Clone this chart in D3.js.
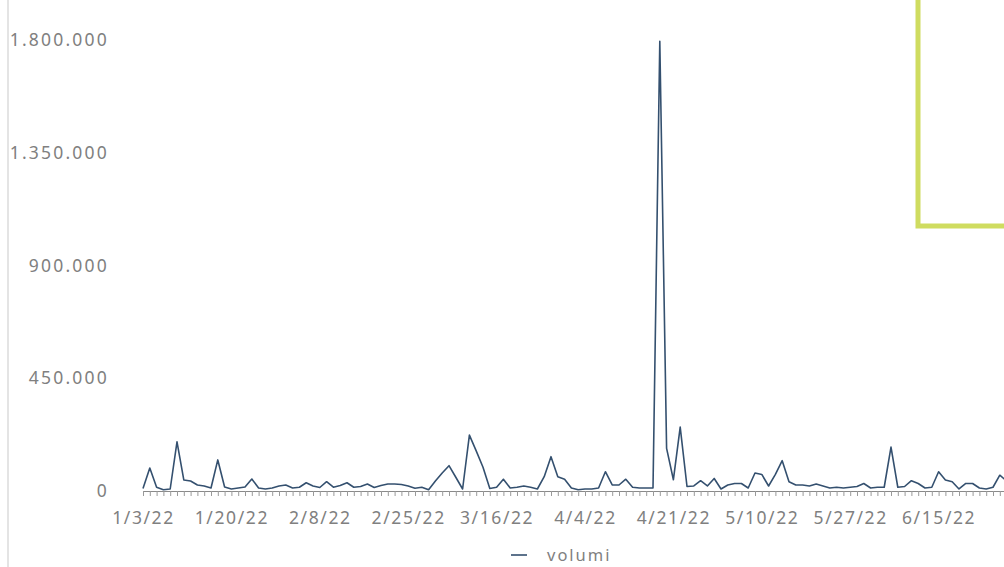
<!DOCTYPE html>
<html>
<head>
<meta charset="utf-8">
<script src="https://cdn.jsdelivr.net/npm/d3@7"></script>
<style>
  body { margin: 0; background: #fff; }
  text { font-family: "Noto Sans", sans-serif; }
</style>
</head>
<body>
<div class="graph-section"></div>
<script>
// volumi, one value per trading day (weekdays from 1/3/22)
var volumi = [
  10000, 92000, 15000, 5000, 8000, 196000, 44000, 40000, 24000, 20000,
  12000, 124000, 16000, 8000, 12000, 16000, 48000, 12000, 8000, 12000,
  20000, 24000, 12000, 15000, 33000, 20000, 14000, 37000, 15000, 22000,
  33000, 15000, 18000, 28000, 14000, 22000, 28000, 28000, 26000, 20000,
  11000, 15000, 5000, 40000, 72000, 101000, 55000, 8000, 223000, 160000,
  95000, 10000, 15000, 47000, 12000, 15000, 20000, 15000, 8000, 57000,
  137000, 57000, 47000, 12000, 5000, 8000, 8000, 12000, 77000, 24000,
  24000, 47000, 15000, 12000, 12000, 12000, 1795000, 170000, 45000, 255000,
  18000, 20000, 41000, 20000, 50000, 8000, 24000, 30000, 30000, 12000,
  72000, 66000, 20000, 66000, 121000, 37000, 24000, 24000, 20000, 28000,
  20000, 12000, 15000, 12000, 15000, 18000, 30000, 12000, 15000, 15000,
  175000, 15000, 18000, 41000, 30000, 12000, 15000, 77000, 44000, 37000,
  8000, 30000, 30000, 12000, 8000, 15000, 63000, 40000
];

var tickLabels = ["1/3/22", "1/20/22", "2/8/22", "2/25/22", "3/16/22",
                  "4/4/22", "4/21/22", "5/10/22", "5/27/22", "6/15/22"];

var yTicks = [0, 450000, 900000, 1350000, 1800000];

var seriesName = "volumi";

// weekday dates for the category axis
var fmtDate = d3.timeFormat("%-m/%-d/%y");
var dates = d3.timeDays(new Date(2022, 0, 3), new Date(2022, 6, 1))
              .filter(function(d){ return d.getDay() != 0 && d.getDay() != 6; })
              .map(fmtDate)
              .slice(0, volumi.length);

var screen = {width:1004, height:567};
var margins = {top:40, left:143, bottom:76};
var step = 6.8;
var labelFont = "17.5px";
var labelColor = "#808080";

var it = d3.formatLocale({decimal:",", thousands:".", grouping:[3], currency:["", "€"]});
var fmt = it.format(",d");

var svg = d3.select(".graph-section")
            .append("svg")
            .attr("width", screen.width)
            .attr("height", screen.height);

var xScale = d3.scalePoint()
               .domain(dates)
               .range([margins.left, margins.left + step * (dates.length - 1)]);

var yScale = d3.scaleLinear()
               .domain([0, 1800000])
               .range([screen.height - margins.bottom, margins.top]);

// container edge on the left
svg.append("line")
   .attr("x1", 8).attr("x2", 8)
   .attr("y1", 0).attr("y2", screen.height)
   .attr("stroke", "#e4e4e4")
   .attr("stroke-width", 2);

// y axis, labels only
var yAxis = d3.axisLeft(yScale)
              .tickValues(yTicks)
              .tickFormat(fmt)
              .tickSize(0)
              .tickPadding(0);

var yG = svg.append("g")
            .attr("transform", "translate(109,0)")
            .call(yAxis);
yG.select(".domain").remove();
yG.selectAll("text")
  .attr("fill", labelColor)
  .style("font-size", labelFont)
  .style("letter-spacing", "2.2px")
  .style("font-family", "Noto Sans, sans-serif");

// x axis with a tick on every day
var xAxis = d3.axisBottom(xScale)
              .tickSize(5)
              .tickFormat(function(d){ return tickLabels.indexOf(d) >= 0 ? d : ""; });

var xG = svg.append("g")
            .attr("transform", "translate(0," + yScale(0) + ")")
            .call(xAxis);
xG.select(".domain").attr("stroke", "#8a8a8a");
xG.selectAll(".tick line").attr("stroke", "#9a9a9a");
xG.selectAll("text")
  .attr("fill", labelColor)
  .attr("y", 21)
  .attr("dy", "0.71em")
  .style("font-size", labelFont)
  .style("letter-spacing", "1.6px")
  .style("font-family", "Noto Sans, sans-serif");

// the series line
var line = d3.line()
             .x(function(d, i){ return xScale(dates[i]); })
             .y(function(d){ return yScale(d); });

svg.append("path")
   .datum(volumi)
   .attr("d", line)
   .attr("fill", "none")
   .attr("stroke", "#34506f")
   .attr("stroke-width", 1.6)
   .attr("stroke-linejoin", "round");

// legend
var legend = svg.append("g")
                .attr("transform", "translate(511,555)");
legend.append("line")
      .attr("x1", 0).attr("x2", 16)
      .attr("y1", 0).attr("y2", 0)
      .attr("stroke", "#34506f")
      .attr("stroke-width", 1.6);
legend.append("text")
      .attr("x", 36)
      .attr("y", 6)
      .attr("fill", labelColor)
      .style("font-size", "16.5px")
      .style("letter-spacing", "2px")
      .text(seriesName);

// highlight box at the top right
svg.append("rect")
   .attr("x", 918)
   .attr("y", -10)
   .attr("width", 120)
   .attr("height", 236)
   .attr("fill", "none")
   .attr("stroke", "#cfdc60")
   .attr("stroke-width", 5);
</script>
</body>
</html>
